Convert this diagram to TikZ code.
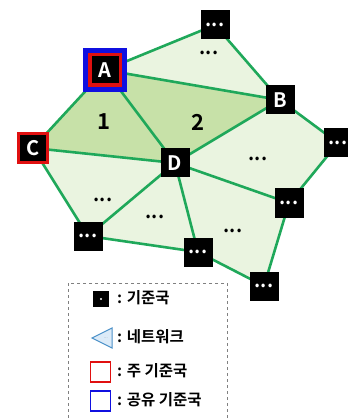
\documentclass[tikz,border=0pt]{standalone}
\usepackage{fontspec}
\setmainfont{Noto Sans CJK KR}[BoldFont={* Bold}]
\newfontfamily\krfont{Noto Sans CJK KR Bold}
\definecolor{edgeg}{HTML}{1FA85A}
\definecolor{darkf}{HTML}{C7E1A8}
\definecolor{lightf}{HTML}{EAF4E0}
\definecolor{bluebox}{HTML}{1010E0}
\definecolor{redbox}{HTML}{E01010}
\definecolor{legtri}{HTML}{4A90C8}
\definecolor{legtrif}{HTML}{DCEBF8}
\tikzset{
  station/.style={fill=black, minimum size=29pt, inner sep=0pt, text=white, font=\krfont\fontsize{20}{20}\selectfont},
  dots/.style={fill=black, minimum size=29pt, inner sep=0pt, text=white, font=\krfont\fontsize{19}{19}\selectfont},
  idots/.style={inner sep=0pt, text=black, font=\krfont\fontsize{19}{19}\selectfont},
  num/.style={inner sep=0pt, text=black, font=\krfont\fontsize{22}{22}\selectfont},
  link/.style={draw=edgeg, line width=2.6pt, line cap=round},
  legtext/.style={anchor=west, inner sep=0pt, font=\krfont\fontsize{15.5}{15.5}\selectfont}
}
\begin{document}
\begin{tikzpicture}[x=1pt,y=-1pt]
\useasboundingbox (0,0) rectangle (347,419);
% coordinates
\coordinate (pT) at (215,25);
\coordinate (pA) at (105,70);
\coordinate (pB) at (280,100);
\coordinate (pR) at (338,143);
\coordinate (pC) at (33,148);
\coordinate (pD) at (175,163);
\coordinate (pM) at (289,203);
\coordinate (pL) at (88,236);
\coordinate (pN) at (198,252);
\coordinate (pS) at (264,286);
% fills
\fill[lightf] (pA) -- (pT) -- (pB) -- cycle;
\fill[lightf] (pB) -- (pR) -- (pM) -- (pD) -- cycle;
\fill[lightf] (pC) -- (pD) -- (pL) -- cycle;
\fill[lightf] (pD) -- (pL) -- (pN) -- cycle;
\fill[lightf] (pD) -- (pN) -- (pS) -- (pM) -- cycle;
\fill[darkf] (pA) -- (pC) -- (pD) -- cycle;
\fill[darkf] (pA) -- (pD) -- (pB) -- cycle;
% edges
\draw[link] (pA) -- (pT);
\draw[link] (pT) -- (pB);
\draw[link] (pA) -- (pB);
\draw[link] (pA) -- (pC);
\draw[link] (pA) -- (pD);
\draw[link] (pC) -- (pD);
\draw[link] (pD) -- (pB);
\draw[link] (pB) -- (pR);
\draw[link] (pR) -- (pM);
\draw[link] (pD) -- (pM);
\draw[link] (pC) -- (pL);
\draw[link] (pD) -- (pL);
\draw[link] (pD) -- (pN);
\draw[link] (pL) -- (pN);
\draw[link] (pN) -- (pS);
\draw[link] (pM) -- (pS);
% nodes
\node[fill=bluebox, minimum size=44pt, inner sep=0pt] (Aout) at (pA) {};
\node[fill=redbox, minimum size=34pt, inner sep=0pt] (Amid) at (pA) {};
\node[station, minimum size=27pt] (A) at (pA) {A};
\node[station] (B) at (pB) {B};
\node[fill=redbox, minimum size=32pt, inner sep=0pt] (Cout) at (pC) {};
\node[station, minimum size=26pt] (C) at (pC) {C};
\node[station] (D) at (pD) {D};
\node[dots] (T) at (pT) {...};
\node[dots] (R) at (pR) {...};
\node[dots] (M) at (pM) {...};
\node[dots] (L) at (pL) {...};
\node[dots] (N) at (pN) {...};
\node[dots] (S) at (pS) {...};
% interior labels
\node[num] (n1) at (104,122) {1};
\node[num] (n2) at (198,122) {2};
\node[idots] (i1) at (209,53) {...};
\node[idots] (i2) at (258,159) {...};
\node[idots] (i3) at (103,200) {...};
\node[idots] (i4) at (155,217) {...};
\node[idots] (i5) at (233,231) {...};
% legend
\draw[gray, dashed, line width=0.8pt] (68,283) rectangle (227,430);
\node[fill=black, minimum size=16pt, inner sep=0pt] (lg1) at (101,299) {};
\fill[white] (lg1.center) circle (1.2pt);
\node[legtext] (lt1) at (117,298) {: 기준국};
\filldraw[fill=legtrif, draw=legtri, line width=1pt] (92,338) -- (112,328) -- (112,348) -- cycle;
\node[inner sep=0pt, font=\fontsize{4}{4}\selectfont, text=gray] (lg2) at (106,338) {...};
\node[legtext] (lt2) at (117,337) {: 네트워크};
\node[draw=redbox, fill=white, line width=1.2pt, minimum size=20pt, inner sep=0pt] (lg3) at (100.5,372) {};
\node[legtext] (lt3) at (117,371) {: 주 기준국};
\node[draw=bluebox, fill=white, line width=1.2pt, minimum size=20pt, inner sep=0pt] (lg4) at (100.5,401) {};
\node[legtext] (lt4) at (117,400) {: 공유 기준국};
\end{tikzpicture}
\end{document}
